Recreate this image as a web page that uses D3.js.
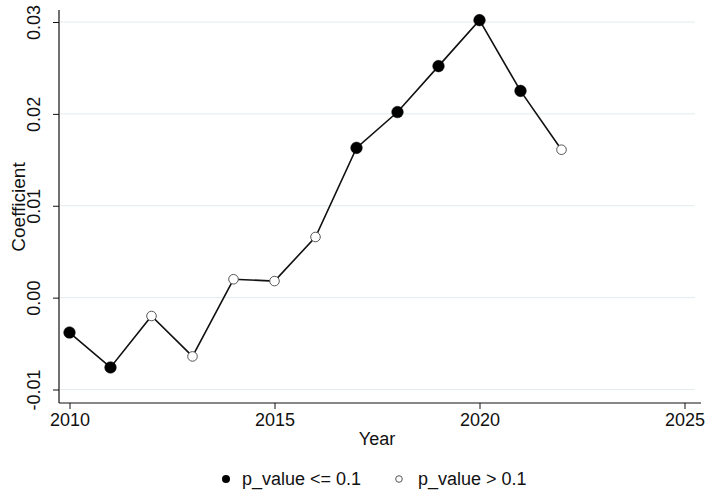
<!DOCTYPE html>
<html>
<head>
<meta charset="utf-8">
<script src="https://cdn.jsdelivr.net/npm/d3@7"></script>
<style>
  body { margin: 0; background: #fff; }
  text { font-family: "Liberation Sans", Arial, sans-serif; fill: #111; }
</style>
</head>
<body>
<div id="chart"></div>
<script>
// data
const years = [2010, 2011, 2012, 2013, 2014, 2015, 2016, 2017, 2018, 2019, 2020, 2021, 2022];
const coefs = [-0.0038, -0.0076, -0.0020, -0.0064, 0.0020, 0.0018, 0.0066, 0.0163, 0.0202, 0.0252, 0.0302, 0.0225, 0.0161];
const significant = [true, true, false, false, false, false, false, true, true, true, true, true, false];
const xTicks = [2010, 2015, 2020, 2025];
const yTicks = [-0.01, 0.00, 0.01, 0.02, 0.03];
const legendLabels = ["p_value <= 0.1", "p_value > 0.1"];

const W = 711, H = 496;

const svg = d3.select("#chart")
  .append("svg")
  .attr("width", W)
  .attr("height", H);

// scales
const x = d3.scaleLinear().domain([2010, 2025]).range([69.5, 684.5]);
const y = d3.scaleLinear().domain([-0.01, 0.03]).range([389.5, 22]);

// plot frame edges
const plotLeft = 59, plotRight = 701, plotTop = 10, plotBottom = 403;

// grid lines
svg.append("g")
  .selectAll("line")
  .data(yTicks)
  .join("line")
  .attr("x1", plotLeft + 1)
  .attr("x2", 695)
  .attr("y1", d => y(d))
  .attr("y2", d => y(d))
  .attr("stroke", "#e3ebee")
  .attr("stroke-width", 1);

// y axis (plain hyphen for negatives, as in the original)
const fmtY = d => d3.format(".2f")(d).replace("\u2212", "-");
const yAxis = svg.append("g")
  .attr("transform", `translate(${plotLeft},0)`)
  .call(d3.axisLeft(y).tickValues(yTicks).tickFormat(fmtY).tickSize(6));
yAxis.select(".domain").remove();
yAxis.append("line")
  .attr("x1", 0).attr("x2", 0)
  .attr("y1", plotTop).attr("y2", plotBottom)
  .attr("stroke", "#111").attr("stroke-width", 1.2);
yAxis.selectAll(".tick line").attr("stroke", "#111");
// rotated tick labels, like Stata
yAxis.selectAll(".tick text")
  .attr("font-size", 18)
  .attr("fill", "#111")
  .attr("transform", "rotate(-90)")
  .attr("x", 0)
  .attr("y", -19.5)
  .attr("dy", 0)
  .attr("text-anchor", "middle");

// x axis
const xAxis = svg.append("g")
  .attr("transform", `translate(0,${plotBottom})`)
  .call(d3.axisBottom(x).tickValues(xTicks).tickFormat(d3.format("d")).tickSize(6).tickPadding(4));
xAxis.select(".domain").remove();
xAxis.append("line")
  .attr("x1", plotLeft).attr("x2", plotRight)
  .attr("y1", 0).attr("y2", 0)
  .attr("stroke", "#111").attr("stroke-width", 1.2);
xAxis.selectAll(".tick line").attr("stroke", "#111");
xAxis.selectAll(".tick text").attr("font-size", 18).attr("fill", "#111");

// axis titles
svg.append("text")
  .attr("transform", `translate(25,207) rotate(-90)`)
  .attr("text-anchor", "middle")
  .attr("font-size", 19)
  .text("Coefficient");

svg.append("text")
  .attr("x", 377)
  .attr("y", 445)
  .attr("text-anchor", "middle")
  .attr("font-size", 18)
  .text("Year");

// line
const pts = years.map((d, i) => ({ year: d, coef: coefs[i], sig: significant[i] }));
svg.append("path")
  .datum(pts)
  .attr("fill", "none")
  .attr("stroke", "#111")
  .attr("stroke-width", 1.6)
  .attr("d", d3.line().x(d => x(d.year)).y(d => y(d.coef)));

// markers
svg.append("g")
  .selectAll("circle")
  .data(pts)
  .join("circle")
  .attr("cx", d => x(d.year))
  .attr("cy", d => y(d.coef))
  .attr("r", d => d.sig ? 5.8 : 4.8)
  .attr("fill", d => d.sig ? "#000" : "#fff")
  .attr("stroke", d => d.sig ? "#000" : "#555")
  .attr("stroke-width", d => d.sig ? 0.5 : 1);

// legend
const legend = svg.append("g").attr("transform", "translate(0,479)");
legend.append("circle")
  .attr("cx", 226).attr("cy", 0).attr("r", 4)
  .attr("fill", "#000");
legend.append("text")
  .attr("x", 242).attr("y", 0).attr("dy", "0.35em")
  .attr("font-size", 18)
  .text(legendLabels[0]);
legend.append("circle")
  .attr("cx", 399).attr("cy", 0).attr("r", 3.3)
  .attr("fill", "#fff").attr("stroke", "#555").attr("stroke-width", 1);
legend.append("text")
  .attr("x", 418).attr("y", 0).attr("dy", "0.35em")
  .attr("font-size", 18)
  .text(legendLabels[1]);
</script>
</body>
</html>
